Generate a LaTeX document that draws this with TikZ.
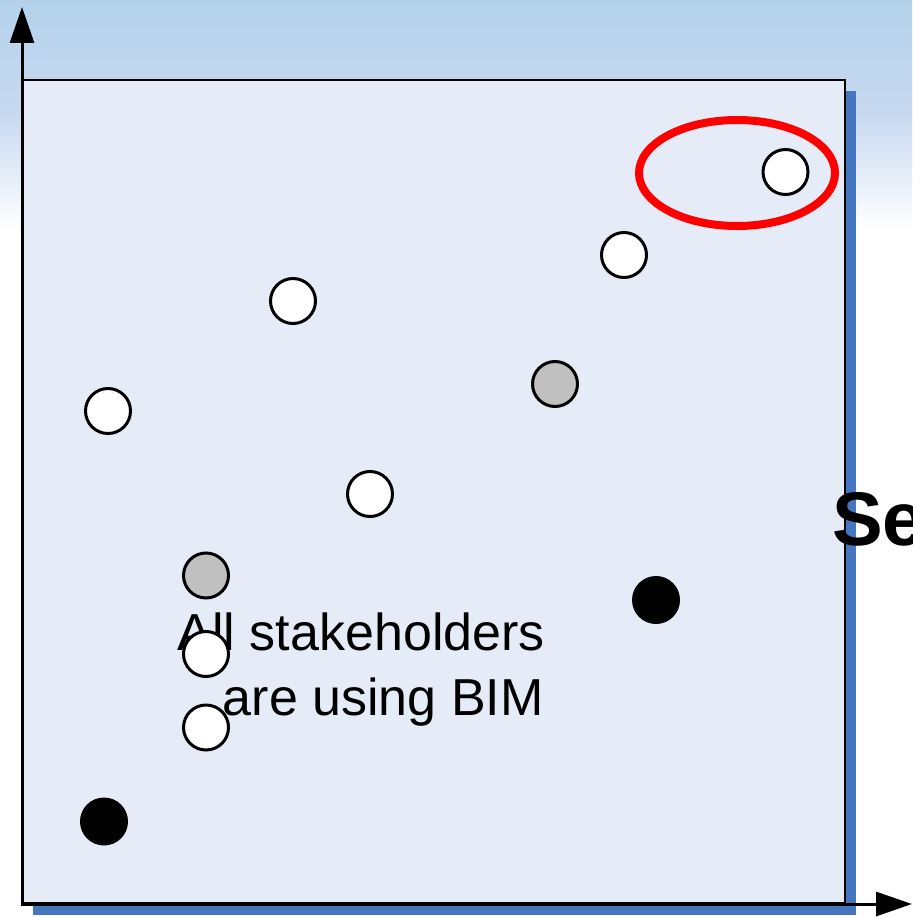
\documentclass[tikz,border=0pt]{standalone}
\usepackage{fontspec}
\setmainfont{Liberation Sans}
\usetikzlibrary{arrows.meta,shapes.geometric}
\definecolor{skytop}{RGB}{179,210,234}
\definecolor{skymid}{RGB}{200,217,241}
\definecolor{panelfill}{RGB}{230,236,247}
\definecolor{shadowblue}{RGB}{70,118,192}
\definecolor{dotgray}{RGB}{192,192,192}
\tikzset{
  dot/.style={circle, draw=black, line width=3pt, minimum size=45pt, inner sep=0pt},
  whitedot/.style={dot, fill=white},
  graydot/.style={dot, fill=dotgray},
  blackdot/.style={dot, fill=black},
  axisline/.style={line width=3pt, -{Triangle[length=36pt,width=24pt]}},
  bodytext/.style={inner sep=0pt, font=\fontsize{52}{65}\selectfont},
}
\begin{document}
\begin{tikzpicture}[x=1pt,y=-1pt]
\useasboundingbox (0,0) rectangle (912,917);
% background
\fill[white] (0,0) rectangle (912,917);
\shade[top color=skytop, bottom color=white, middle color=skymid] (0,0) rectangle (912,230);
% panel with shadow
\fill[shadowblue] (33,91) rectangle (856,915);
\filldraw[fill=panelfill, draw=black, line width=1.5pt] (22,80) rectangle (845,903);
% axes
\coordinate (O) at (22,904);
\coordinate (ytip) at (22,7);
\coordinate (xtip) at (912,904);
\draw[axisline] (22,906) -- (ytip);
\draw[axisline] (20.5,904) -- (xtip);
% texts
\node[bodytext, anchor=base east] (l1) at (545,650) {All stakeholders};
\node[bodytext, anchor=base east] (l2) at (544,715) {are using BIM};
\node[inner sep=0pt, anchor=base west, font=\fontsize{76}{90}\selectfont\bfseries] (se) at (832,545) {Se};
% dots
\node[whitedot] (d1) at (785.5,172) {};
\node[whitedot] (d2) at (624,255) {};
\node[whitedot] (d3) at (293,301) {};
\node[graydot] (d4) at (555,384) {};
\node[whitedot] (d5) at (108,411) {};
\node[whitedot] (d6) at (370,494) {};
\node[graydot] (d7) at (206,575.5) {};
\node[blackdot] (d8) at (656,600) {};
\node[whitedot] (d9) at (206,654) {};
\node[whitedot] (d10) at (206,727.5) {};
\node[blackdot] (d11) at (104,821.5) {};
% highlight ellipse
\node[ellipse, draw=red, line width=8pt, minimum width=196pt, minimum height=106pt, inner sep=0pt] (sel) at (737,173) {};
\end{tikzpicture}
\end{document}
